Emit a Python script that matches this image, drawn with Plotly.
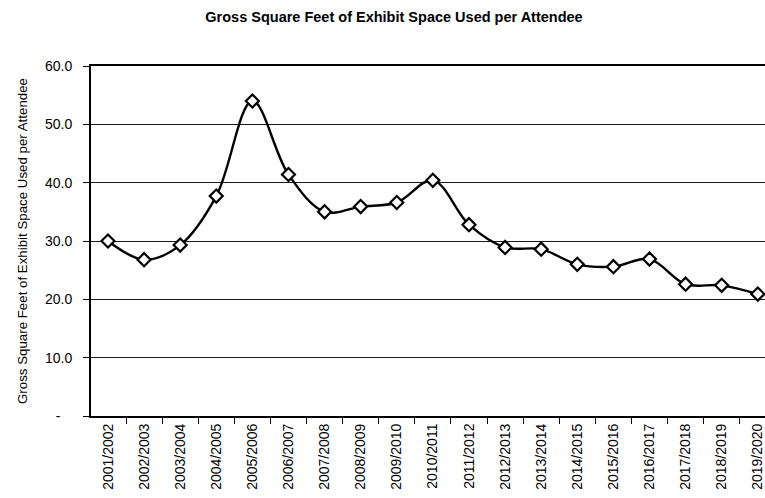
import plotly.graph_objects as go

# Fiscal years on the category axis
years = [
    "2001/2002", "2002/2003", "2003/2004", "2004/2005", "2005/2006",
    "2006/2007", "2007/2008", "2008/2009", "2009/2010", "2010/2011",
    "2011/2012", "2012/2013", "2013/2014", "2014/2015", "2015/2016",
    "2016/2017", "2017/2018", "2018/2019", "2019/2020",
]

# Gross square feet of exhibit space used per attendee
sqft_per_attendee = [
    30.0, 26.8, 29.3, 37.7, 54.0,
    41.4, 35.0, 35.9, 36.6, 40.4,
    32.8, 28.9, 28.6, 26.0, 25.6,
    26.9, 22.6, 22.4, 20.9,
]

# Value-axis ticks and their labels (zero shown as an accounting dash)
y_tick_values = [0, 10, 20, 30, 40, 50, 60]
y_tick_labels = ["-\u00a0\u00a0\u00a0", "10.0", "20.0", "30.0", "40.0", "50.0", "60.0"]

FONT = "Liberation Sans, Arial, sans-serif"

fig = go.Figure(
    go.Scatter(
        x=years,
        y=sqft_per_attendee,
        mode="lines+markers",
        line=dict(color="black", width=2.4, shape="spline", smoothing=1.0),
        marker=dict(symbol="diamond", size=10, color="white",
                    line=dict(color="black", width=2.2)),
        showlegend=False,
    )
)

fig.update_layout(
    width=765,
    height=498,
    margin=dict(l=91, r=0, t=66, b=82),
    paper_bgcolor="white",
    plot_bgcolor="white",
    font=dict(family=FONT, color="black", size=14),
    title=dict(
        text="<b>Gross Square Feet of Exhibit Space Used per Attendee</b>",
        font=dict(family=FONT, size=14.5, color="black"),
        x=394 / 765,
        xanchor="center",
        xref="container",
        y=1 - 17 / 498,
        yanchor="middle",
        yref="container",
    ),
)

fig.update_xaxes(
    type="category",
    range=[-0.47, 18.2],
    showline=True,
    linecolor="black",
    linewidth=2,
    mirror=True,
    showgrid=False,
    ticks="outside",
    tickson="boundaries",
    ticklen=6,
    tickcolor="black",
    tickangle=-90,
    tickfont=dict(family=FONT, size=14, color="black"),
)

fig.update_yaxes(
    range=[0, 60],
    tickvals=y_tick_values,
    ticktext=y_tick_labels,
    showline=True,
    linecolor="black",
    linewidth=2,
    showgrid=True,
    gridcolor="#1a1a1a",
    gridwidth=1.2,
    zeroline=False,
    ticks="outside",
    ticklen=6,
    tickcolor="black",
    ticklabelstandoff=8,
    tickfont=dict(family=FONT, size=14, color="black"),
    title=dict(
        text="Gross Square Feet of Exhibit Space Used per Attendee",
        font=dict(family=FONT, size=13.3, color="black"),
        standoff=14,
    ),
)

fig.write_html("out.html")
